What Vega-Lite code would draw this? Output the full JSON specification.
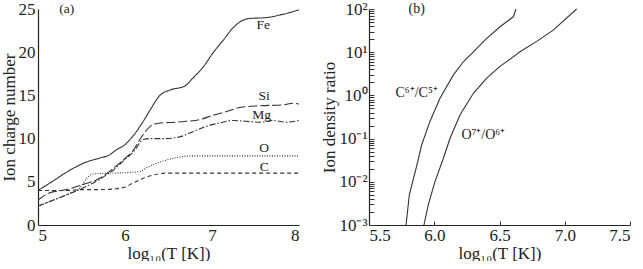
{
  "$schema": "https://vega.github.io/schema/vega-lite/v6.json",
  "padding": {"left": 0, "top": 0, "right": 0, "bottom": 0},
  "spacing": 18,
  "background": "white",
  "config": {
    "font": "Liberation Serif",
    "view": {"stroke": null},
    "style": {"guide-label": {"font": "Liberation Serif"}, "guide-title": {"font": "Liberation Serif"}},
    "axis": {"grid": false, "domainColor": "#222", "domainWidth": 1.2, "labelFont": "Liberation Serif", "titleFont": "Liberation Serif", "labelFontSize": 17, "titleFontSize": 17, "titleFontWeight": "normal", "labelColor": "#222", "titleColor": "#222", "tickColor": "#333"}
  },
  "hconcat": [
    {
      "width": 261,
      "height": 216,
      "layer": [
        {
          "data": {"values": [
            {"el":"Fe","x":5.0,"v":4.0},{"el":"Fe","x":5.19,"v":5.2},{"el":"Fe","x":5.31,"v":6.0},{"el":"Fe","x":5.56,"v":7.3},{"el":"Fe","x":5.71,"v":7.75},{"el":"Fe","x":5.82,"v":8.1},{"el":"Fe","x":5.9,"v":8.7},{"el":"Fe","x":6.0,"v":9.3},{"el":"Fe","x":6.1,"v":10.4},{"el":"Fe","x":6.21,"v":12.0},{"el":"Fe","x":6.3,"v":13.5},{"el":"Fe","x":6.4,"v":15.0},{"el":"Fe","x":6.51,"v":15.6},{"el":"Fe","x":6.69,"v":16.1},{"el":"Fe","x":6.78,"v":17.0},{"el":"Fe","x":6.9,"v":18.3},{"el":"Fe","x":7.01,"v":19.9},{"el":"Fe","x":7.13,"v":21.4},{"el":"Fe","x":7.24,"v":22.8},{"el":"Fe","x":7.32,"v":23.5},{"el":"Fe","x":7.43,"v":23.9},{"el":"Fe","x":7.62,"v":24.0},{"el":"Fe","x":7.82,"v":24.4},{"el":"Fe","x":8.0,"v":24.9},
            {"el":"Si","x":5.0,"v":2.9},{"el":"Si","x":5.13,"v":3.7},{"el":"Si","x":5.33,"v":4.1},{"el":"Si","x":5.52,"v":4.7},{"el":"Si","x":5.71,"v":5.4},{"el":"Si","x":5.87,"v":6.6},{"el":"Si","x":6.0,"v":7.7},{"el":"Si","x":6.1,"v":8.7},{"el":"Si","x":6.17,"v":9.9},{"el":"Si","x":6.25,"v":11.0},{"el":"Si","x":6.3,"v":11.5},{"el":"Si","x":6.4,"v":11.8},{"el":"Si","x":6.59,"v":11.9},{"el":"Si","x":6.7,"v":12.0},{"el":"Si","x":6.86,"v":12.2},{"el":"Si","x":7.01,"v":12.7},{"el":"Si","x":7.16,"v":13.1},{"el":"Si","x":7.32,"v":13.6},{"el":"Si","x":7.55,"v":13.8},{"el":"Si","x":7.82,"v":13.9},{"el":"Si","x":7.93,"v":14.1},{"el":"Si","x":8.0,"v":14.0},
            {"el":"Mg","x":5.0,"v":2.2},{"el":"Mg","x":5.33,"v":3.5},{"el":"Mg","x":5.52,"v":4.3},{"el":"Mg","x":5.71,"v":5.3},{"el":"Mg","x":5.87,"v":6.4},{"el":"Mg","x":6.0,"v":7.6},{"el":"Mg","x":6.1,"v":8.5},{"el":"Mg","x":6.21,"v":9.9},{"el":"Mg","x":6.28,"v":10.0},{"el":"Mg","x":6.47,"v":10.0},{"el":"Mg","x":6.63,"v":10.2},{"el":"Mg","x":6.78,"v":10.8},{"el":"Mg","x":6.93,"v":11.4},{"el":"Mg","x":7.08,"v":11.8},{"el":"Mg","x":7.24,"v":12.1},{"el":"Mg","x":7.39,"v":12.0},{"el":"Mg","x":7.55,"v":11.9},{"el":"Mg","x":7.7,"v":12.1},{"el":"Mg","x":7.85,"v":11.9},{"el":"Mg","x":8.0,"v":12.1},
            {"el":"O","x":5.0,"v":2.1},{"el":"O","x":5.13,"v":2.7},{"el":"O","x":5.33,"v":3.5},{"el":"O","x":5.48,"v":4.3},{"el":"O","x":5.56,"v":5.4},{"el":"O","x":5.63,"v":5.9},{"el":"O","x":5.79,"v":6.0},{"el":"O","x":6.0,"v":6.05},{"el":"O","x":6.17,"v":6.2},{"el":"O","x":6.28,"v":6.8},{"el":"O","x":6.44,"v":7.4},{"el":"O","x":6.59,"v":7.8},{"el":"O","x":6.78,"v":8.0},{"el":"O","x":7.05,"v":8.0},{"el":"O","x":8.0,"v":8.0},
            {"el":"C","x":5.0,"v":4.0},{"el":"C","x":5.33,"v":4.0},{"el":"C","x":5.52,"v":4.1},{"el":"C","x":5.71,"v":4.1},{"el":"C","x":5.9,"v":4.2},{"el":"C","x":6.0,"v":4.4},{"el":"C","x":6.1,"v":4.9},{"el":"C","x":6.21,"v":5.4},{"el":"C","x":6.33,"v":5.8},{"el":"C","x":6.47,"v":6.0},{"el":"C","x":8.0,"v":6.0}
          ]},
          "mark": {"type": "line", "interpolate": "monotone", "strokeWidth": 1.1, "color": "#333"},
          "encoding": {
            "x": {"field": "x", "type": "quantitative", "scale": {"domain": [5, 8], "nice": false}, "axis": {"values": [5, 6, 7, 8], "format": "d", "ticks": false, "labelFont": "Liberation Serif", "titleFont": "Liberation Serif", "labelPadding": 2, "title": "log₁₀(T [K])", "titlePadding": 2}},
            "y": {"field": "v", "type": "quantitative", "scale": {"domain": [0, 25], "nice": false}, "axis": {"values": [0, 5, 10, 15, 20, 25], "format": "d", "ticks": false, "labelFont": "Liberation Serif", "titleFont": "Liberation Serif", "labelPadding": 3, "title": "Ion charge number", "titlePadding": 0}},
            "detail": {"field": "el"},
            "strokeDash": {"field": "el", "type": "nominal", "legend": null, "scale": {"domain": ["Fe", "Si", "Mg", "O", "C"], "range": [[1, 0], [9, 3], [6, 2, 1.5, 2], [1, 1.5], [4, 3]]}}
          }
        },
        {
          "data": {"values": [
            {"t":"Fe","x":7.59,"v":23.2},{"t":"Si","x":7.6,"v":14.9},{"t":"Mg","x":7.57,"v":12.75},{"t":"O","x":7.6,"v":8.9},{"t":"C","x":7.6,"v":6.7},{"t":"(a)","x":5.33,"v":25}
          ]},
          "mark": {"type": "text", "fontSize": 13.5, "color": "#222", "font": "Liberation Serif", "baseline": "middle", "align": "center"},
          "encoding": {
            "x": {"field": "x", "type": "quantitative"},
            "y": {"field": "v", "type": "quantitative"},
            "text": {"field": "t"}
          }
        }
      ]
    },
    {
      "width": 261,
      "height": 216,
      "layer": [
        {
          "data": {"values": [
            {"s":"C","x":5.784,"r":0.001},{"s":"C","x":5.809,"r":0.005},{"s":"C","x":5.865,"r":0.023},{"s":"C","x":5.904,"r":0.072},{"s":"C","x":5.967,"r":0.25},{"s":"C","x":6.044,"r":0.86},{"s":"C","x":6.146,"r":2.95},{"s":"C","x":6.223,"r":6.0},{"s":"C","x":6.3,"r":10.2},{"s":"C","x":6.402,"r":20.9},{"s":"C","x":6.504,"r":38.9},{"s":"C","x":6.606,"r":66},{"s":"C","x":6.626,"r":100},
            {"s":"O","x":5.921,"r":0.001},{"s":"O","x":5.955,"r":0.003},{"s":"O","x":6.006,"r":0.0102},{"s":"O","x":6.07,"r":0.035},{"s":"O","x":6.121,"r":0.102},{"s":"O","x":6.198,"r":0.355},{"s":"O","x":6.3,"r":1.12},{"s":"O","x":6.402,"r":2.5},{"s":"O","x":6.504,"r":4.7},{"s":"O","x":6.657,"r":10.2},{"s":"O","x":6.785,"r":17.8},{"s":"O","x":6.912,"r":32.4},{"s":"O","x":7.091,"r":100}
          ]},
          "mark": {"type": "line", "strokeWidth": 1.1, "color": "#333"},
          "encoding": {
            "x": {"field": "x", "type": "quantitative", "scale": {"domain": [5.5, 7.5], "nice": false}, "axis": {"values": [5.5, 6.0, 6.5, 7.0, 7.5], "format": ".1f", "tickSize": -4, "labelFont": "Liberation Serif", "titleFont": "Liberation Serif", "labelPadding": 6, "title": "log₁₀(T [K])", "titlePadding": 2}},
            "y": {"field": "r", "type": "quantitative", "scale": {"type": "log", "domain": [0.001, 100], "nice": false}, "axis": {
              "values": [0.001,0.002,0.003,0.004,0.005,0.006,0.007,0.008,0.009,0.01,0.02,0.03,0.04,0.05,0.06,0.07,0.08,0.09,0.1,0.2,0.3,0.4,0.5,0.6,0.7,0.8,0.9,1,2,3,4,5,6,7,8,9,10,20,30,40,50,60,70,80,90,100],
              "tickSize": -5, "labelPadding": 7, "labelOverlap": false, "labelFont": "Liberation Serif", "titleFont": "Liberation Serif",
              "labelExpr": "datum.value == 0.001 ? '10⁻³' : datum.value == 0.01 ? '10⁻²' : datum.value == 0.1 ? '10⁻¹' : datum.value == 1 ? '10⁰' : datum.value == 10 ? '10¹' : datum.value == 100 ? '10²' : ''",
              "title": "Ion density ratio", "titlePadding": 0}},
            "detail": {"field": "s"}
          }
        },
        {
          "data": {"values": [
            {"t":"C⁶⁺/C⁵⁺","x":5.865,"r":1.16},{"t":"O⁷⁺/O⁶⁺","x":6.376,"r":0.118},{"t":"(b)","x":5.865,"r":100}
          ]},
          "mark": {"type": "text", "fontSize": 14, "color": "#222", "font": "Liberation Serif", "baseline": "middle", "align": "center"},
          "encoding": {
            "x": {"field": "x", "type": "quantitative"},
            "y": {"field": "r", "type": "quantitative"},
            "text": {"field": "t"}
          }
        }
      ]
    }
  ]
}
